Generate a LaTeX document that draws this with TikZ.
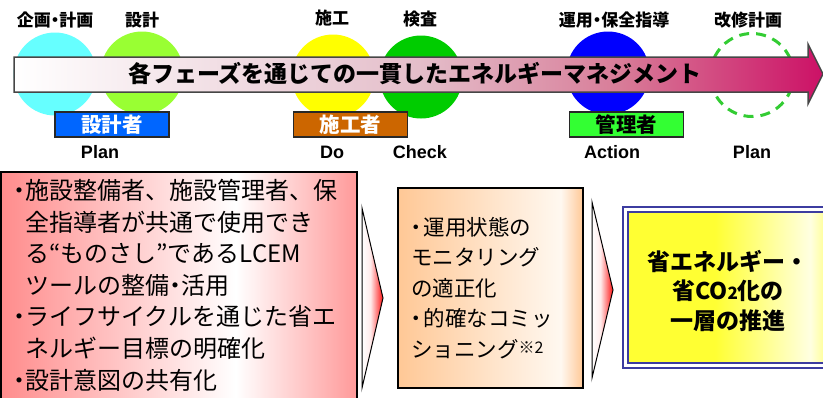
\documentclass[tikz,border=0pt]{standalone}
\usepackage{fontspec}
\setmainfont{Liberation Sans}
\newfontfamily\jp{Noto Sans CJK JP}
\newcommand\hdot{\makebox[0.5em][c]{・}}
\definecolor{cyancol}{RGB}{102,255,255}
\definecolor{limecol}{RGB}{153,255,51}
\definecolor{yelcol}{RGB}{255,255,0}
\definecolor{grncol}{RGB}{0,204,0}
\definecolor{blucol}{RGB}{0,0,255}
\definecolor{dashcol}{RGB}{51,204,51}
\definecolor{arrline}{RGB}{70,70,70}
\definecolor{arrmid}{RGB}{228,190,202}
\definecolor{arrmidb}{RGB}{216,124,152}
\definecolor{arrend}{RGB}{204,17,102}
\definecolor{rolegray}{RGB}{40,40,40}
\definecolor{rblue}{RGB}{0,102,255}
\definecolor{rorange}{RGB}{204,102,0}
\definecolor{rgreen}{RGB}{51,255,51}
\definecolor{lpink}{RGB}{255,140,140}
\definecolor{lpinkr}{RGB}{255,153,153}
\definecolor{morange}{RGB}{255,200,150}
\definecolor{mlight}{RGB}{255,248,240}
\definecolor{ryel}{RGB}{255,255,51}
\definecolor{rlight}{RGB}{255,255,225}
\definecolor{rborder}{RGB}{60,60,160}
\definecolor{chevlight}{RGB}{255,235,235}
\definecolor{chevred}{RGB}{255,20,20}
\pgfdeclarehorizontalshading{arrowsh}{100bp}{color(0bp)=(white); color(25bp)=(white); color(50bp)=(arrmid); color(62.5bp)=(arrmidb); color(75bp)=(arrend); color(100bp)=(arrend)}
\pgfdeclarehorizontalshading{lboxsh}{100bp}{color(0bp)=(lpink); color(25bp)=(lpink); color(58bp)=(white); color(75bp)=(lpinkr); color(100bp)=(lpinkr)}
\pgfdeclarehorizontalshading{mboxsh}{100bp}{color(0bp)=(morange); color(25bp)=(morange); color(69bp)=(mlight); color(75bp)=(morange); color(100bp)=(morange)}
\pgfdeclarehorizontalshading{rboxsh}{100bp}{color(0bp)=(ryel); color(25bp)=(ryel); color(45bp)=(ryel); color(67bp)=(rlight); color(75bp)=(ryel); color(100bp)=(ryel)}
\pgfdeclarehorizontalshading{chevsh}{100bp}{color(0bp)=(white); color(25bp)=(white); color(45bp)=(chevlight); color(75bp)=(chevred); color(100bp)=(chevred)}
\begin{document}
\begin{tikzpicture}[x=1pt,y=-1pt,
  phase/.style={circle, minimum size=83pt, inner sep=0pt},
  toplbl/.style={font=\jp\bfseries\fontsize{17}{17}\selectfont, inner sep=0pt},
  pdca/.style={font=\bfseries\fontsize{18}{18}\selectfont, inner sep=0pt},
  rolebox/.style={draw=rolegray, line width=1.5pt, minimum width=114pt, minimum height=25pt, inner sep=0pt, font=\jp\bfseries\fontsize{20.5}{20.5}\selectfont},
  chev/.style={draw=black, line width=1pt, shading=chevsh},
  boxline/.style={draw=black, line width=1.5pt},
]
\useasboundingbox (0,0) rectangle (823,397);
\clip (0,0) rectangle (823,397);
% phase circles
\node[phase, fill=cyancol] (c1) at (55,74) {};
\node[phase, fill=limecol] (c2) at (142,73) {};
\node[phase, fill=yelcol] (c3) at (333,76) {};
\node[phase, fill=grncol] (c4) at (421,77) {};
\node[phase, fill=blucol] (c5) at (608,73) {};
\node[phase, draw=dashcol, line width=3pt, dash pattern=on 10pt off 7pt] (c6) at (752,75) {};
% main arrow
\draw[draw=arrline, line width=1.5pt, shading=arrowsh] (14,57) -- (808,57) -- (808,44) -- (823,74) -- (808,104) -- (808,92) -- (14,92) -- cycle;
\node[font=\jp\bfseries\fontsize{23}{23}\selectfont, inner sep=0pt] (title) at (415,74) {各フェーズを通じての一貫したエネルギーマネジメント};
% top labels
\node[toplbl] (t1) at (55,20) {企画\hdot 計画};
\node[toplbl] (t2) at (142,20) {設計};
\node[toplbl] (t3) at (332,18) {施工};
\node[toplbl] (t4) at (420,19) {検査};
\node[toplbl] (t5) at (614,20) {運用\hdot 保全指導};
\node[toplbl] (t6) at (748,20) {改修計画};
% role boxes
\node[rolebox, fill=rblue, text=white] (b1) at (112,124.5) {設計者};
\node[rolebox, fill=rorange, text=white] (b2) at (350.5,124.5) {施工者};
\node[rolebox, fill=rgreen, text=black] (b3) at (626.5,124.5) {管理者};
% PDCA labels
\node[pdca] (p1) at (100,152) {Plan};
\node[pdca] (p2) at (332,152) {Do};
\node[pdca] (p3) at (420,152) {Check};
\node[pdca] (p4) at (612,152) {Action};
\node[pdca] (p5) at (752,152) {Plan};
% bottom left box
\path[boxline, shading=lboxsh] (0.75,172) rectangle (357,420);
\node[anchor=north west, inner sep=0pt, align=left, font=\jp\fontsize{24}{31.6}\selectfont] (ltext) at (13,179) {\hdot 施設整備者、施設管理者、保\\\phantom{\hdot}全指導者が共通で使用でき\\\phantom{\hdot}る“ものさし”であるLCEM\\\phantom{\hdot}ツールの整備\hdot 活用\\\hdot ライフサイクルを通じた省エ\\\phantom{\hdot}ネルギー目標の明確化\\\hdot 設計意図の共有化};
% chevron 1
\path[chev] (362,208) -- (383,298) -- (362,388) -- cycle;
% middle box
\path[boxline, shading=mboxsh] (398,188) rectangle (583,388);
\node[anchor=north west, inner sep=0pt, align=left, font=\jp\fontsize{21.5}{30.5}\selectfont] (mtext) at (411,217) {\hdot\hspace{2pt}運用状態の\\モニタリング\\の適正化\\\hdot\hspace{2pt}的確なコミッ\\ショニング\raisebox{4pt}{\fontsize{16}{16}\selectfont ※2}};
% chevron 2
\path[chev] (592,202) -- (613,290) -- (592,378) -- cycle;
% right box
\path[draw=rborder, line width=1.2pt, fill=white] (623,207) rectangle (850,368);
\path[draw=rborder, line width=2pt, shading=rboxsh] (628,212) rectangle (845,363);
\node[align=center, inner sep=0pt, font=\jp\bfseries\fontsize{23}{29.5}\selectfont] (rtext) at (728,291) {省エネルギー・\\省CO{\fontsize{17}{17}\selectfont 2}化の\\一層の推進};
\end{tikzpicture}
\end{document}
